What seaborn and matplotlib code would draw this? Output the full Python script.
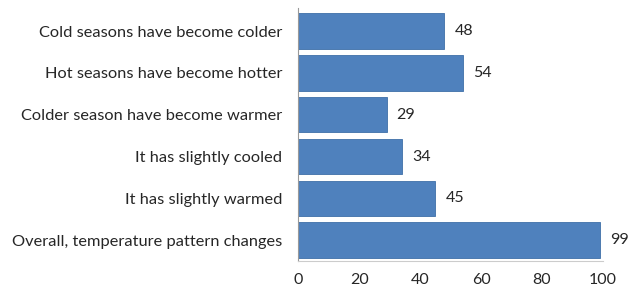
import matplotlib
matplotlib.use("Agg")
import matplotlib.pyplot as plt
import seaborn as sns
import pandas as pd

categories = [
    "Cold seasons have become colder",
    "Hot seasons have become hotter",
    "Colder season have become warmer",
    "It has slightly cooled",
    "It has slightly warmed",
    "Overall, temperature pattern changes",
]
values = [48, 54, 29, 34, 45, 99]
xticks = [0, 20, 40, 60, 80, 100]

sns.set_theme(style="white")
plt.rcParams["font.family"] = ["Lato", "DejaVu Sans"]

df = pd.DataFrame({"cat": categories, "val": values})

fig = plt.figure(figsize=(6.4, 2.9), dpi=100)
ax = fig.add_axes([0.466, 0.10, 0.476, 0.872])
sns.barplot(data=df, x="val", y="cat", orient="h", color="#4F81BD",
            saturation=1, width=0.85, ax=ax, edgecolor="#3F6FA8", linewidth=0.6)

txt = "#262626"
for i, v in enumerate(values):
    ax.text(v + 3.3, i, str(v), va="center", ha="left", fontsize=11.5, color=txt)

ax.set_xlim(0, 100)
ax.set_ylim(5.5, -0.55)
ax.set_xticks(xticks)
ax.set_xticklabels([str(t) for t in xticks], fontsize=11.5, color=txt)
ax.tick_params(axis="y", labelsize=11.8, labelcolor=txt, length=0, pad=11.5)
ax.tick_params(axis="x", length=0, pad=9)
ax.set_xlabel("")
ax.set_ylabel("")
for s in ["top", "right"]:
    ax.spines[s].set_visible(False)
ax.spines["left"].set_color("#999999")
ax.spines["bottom"].set_color("#cccccc")
ax.spines["left"].set_linewidth(0.8)
ax.spines["bottom"].set_linewidth(0.8)

fig.savefig("out.png", dpi=100)
